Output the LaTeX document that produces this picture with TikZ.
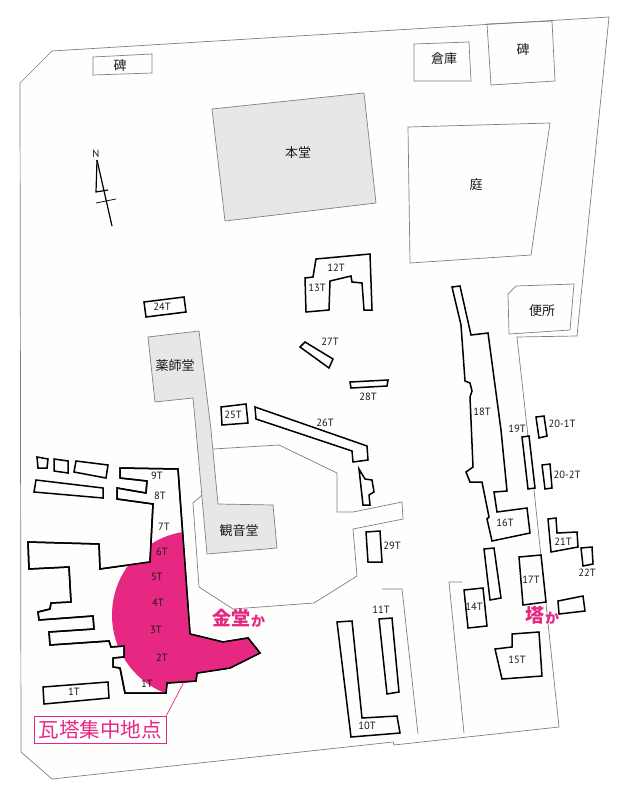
\documentclass[tikz,border=0pt]{standalone}
\usepackage{fontspec}
\setmainfont{PT Sans}
\newfontfamily\jpfont{Noto Sans CJK JP}
\definecolor{tilepink}{HTML}{E62882}
\definecolor{hallgray}{HTML}{E7E7E6}
\definecolor{linegray}{HTML}{7F7F7F}
\definecolor{ground}{HTML}{FEFEFC}
\def\mainruin{(120,468) -- (178,469) -- (190,634) -- (223,642) -- (248,638) -- (260,653) -- (230,668) -- (197,673) -- (196,681) -- (167,683) -- (166,693) -- (125,693) -- (120,668) -- (113,667) -- (113,658) -- (124,657) -- (124,646) -- (111,647) -- (109,641) -- (50,645) -- (49,632) -- (94,629) -- (93,616) -- (39,620) -- (38,612) -- (50,609) -- (51,603) -- (71,602) -- (69,567) -- (29,569) -- (28,542) -- (99,544) -- (100,569) -- (150,562) -- (153,504) -- (117,499) -- (117,488) -- (146,493) -- (147,481) -- (120,478) -- cycle}
\begin{document}
\begin{tikzpicture}[x=1pt,y=-1pt]
        \tikzstyle{thin_line}=[draw=linegray,line width=0.7pt]
        \tikzstyle{hall}=[thin_line,fill=hallgray]
        \tikzstyle{ruin}=[draw=black,line width=1.5pt,fill=ground,line join=miter]
        \tikzstyle{tile}=[font=\fontsize{10.5}{11}\selectfont,inner sep=0pt,text=black!90]
        \tikzstyle{place}=[font=\jpfont\fontsize{13}{14}\selectfont,inner sep=0pt,text=black!90]
        \tikzstyle{pink_big}=[font=\jpfont\bfseries\fontsize{19}{20}\selectfont,inner sep=0pt,text=tilepink]
        \tikzstyle{pink_small}=[font=\jpfont\bfseries\fontsize{14}{15}\selectfont,inner sep=0pt,text=tilepink]
        \useasboundingbox (0,0) rectangle (620,800);
        % site
        \draw[thin_line,fill=ground] (52,51) -- (609,17) -- (577,336) -- (517,337) -- (534,490) -- (559,727) -- (394,745) -- (393,742) -- (52,779) -- (21,752) -- (20,83) -- cycle;
        \draw[thin_line] (213,449) -- (279,445) -- (337,473) -- (337,512) -- (353,512) -- (402,502) -- (403,519) -- (353,529) -- (357,576) -- (314,603) -- (233,609) -- (199,587) -- (193,503) -- (202,495);
        \draw[thin_line] (382,589) -- (402,589) -- (418,734);
        \draw[thin_line] (462,582) -- (449,582) -- (464,733);
        \draw[thin_line] (93,57) -- (152,54) -- (152,73) -- (93,75) -- cycle;
        \draw[thin_line] (414,44) -- (469,42) -- (471,81) -- (414,81) -- cycle;
        \draw[thin_line] (487,24) -- (552,21) -- (555,81) -- (491,85) -- cycle;
        \draw[thin_line] (408,127) -- (550,123) -- (531,255) -- (410,263) -- cycle;
        \draw[thin_line] (508,294) -- (516,286) -- (574,284) -- (570,330) -- (509,334) -- cycle;
        % halls
        \draw[hall] (212,109) -- (364,93) -- (376,203) -- (225,221) -- cycle;
        \draw[hall] (148,337) -- (199,331) -- (211,430) -- (218,504) -- (273,505) -- (277,548) -- (207,554) -- (196,430) -- (193,398) -- (155,402) -- cycle;
        % north mark
        \draw[line width=1.2pt] (97,160) -- (112,226);
        \draw[line width=1.2pt] (97,160) -- (96,192) -- (108,190);
        \draw[line width=0.7pt] (96,203) -- (116,199);
        % tile scatter
        \draw[ruin] \mainruin;
        \begin{scope}
            \clip \mainruin;
            \fill[tilepink] (196,615) circle (84);
        \end{scope}
        \draw[ruin,fill=none] \mainruin;
        \draw[ruin] (37,457) -- (48,459) -- (47,468) -- (38,468) -- cycle;
        \draw[ruin] (54,459) -- (68,461) -- (68,473) -- (54,471) -- cycle;
        \draw[ruin] (76,461) -- (108,465) -- (106,478) -- (74,472) -- cycle;
        \draw[ruin] (36,480) -- (103,488) -- (103,498) -- (34,492) -- cycle;
        \draw[ruin] (43,687) -- (108,682) -- (109,698) -- (44,704) -- cycle;
        \draw[ruin] (316,259) -- (370,254) -- (372,310) -- (364,310) -- (362,283) -- (352,282) -- (351,276) -- (330,281) -- (329,310) -- (306,312) -- (305,278) -- (313,277) -- cycle;
        \draw[ruin] (144,302) -- (184,297) -- (186,312) -- (146,317) -- cycle;
        \draw[ruin] (221,407) -- (246,404) -- (248,423) -- (222,425) -- cycle;
        \draw[ruin] (255,407) -- (367,446) -- (368,460) -- (353,462) -- (352,451) -- (256,419) -- cycle;
        \draw[ruin] (359,469) -- (365,479) -- (372,480) -- (374,492) -- (369,495) -- (370,505) -- (363,505) -- cycle;
        \draw[ruin] (305,342) -- (333,359) -- (329,368) -- (300,347) -- cycle;
        \draw[ruin] (350,382) -- (388,380) -- (387,386) -- (351,388) -- cycle;
        \draw[ruin] (452,287) -- (460,286) -- (471,335) -- (488,333) -- (501,430) -- (507,491) -- (494,492) -- (497,512) -- (527,508) -- (530,533) -- (492,541) -- (487,519) -- (489,517) -- (482,482) -- (470,482) -- (466,472) -- (473,467) -- (470,397) -- (472,391) -- (470,383) -- (465,381) -- (461,325) -- cycle;
        \draw[ruin] (522,437) -- (529,436) -- (535,488) -- (528,489) -- cycle;
        \draw[ruin] (536,417) -- (544,416) -- (547,436) -- (539,438) -- cycle;
        \draw[ruin] (542,465) -- (550,464) -- (552,488) -- (545,489) -- cycle;
        \draw[ruin] (548,519) -- (556,518) -- (557,533) -- (577,532) -- (578,547) -- (551,552) -- cycle;
        \draw[ruin] (581,548) -- (592,547) -- (593,564) -- (583,566) -- cycle;
        \draw[ruin] (519,557) -- (541,555) -- (546,602) -- (523,605) -- cycle;
        \draw[ruin] (558,601) -- (583,596) -- (585,611) -- (559,614) -- cycle;
        \draw[ruin] (484,549) -- (494,548) -- (501,598) -- (490,600) -- cycle;
        \draw[ruin] (464,590) -- (483,588) -- (487,626) -- (468,628) -- cycle;
        \draw[ruin] (495,649) -- (512,647) -- (512,634) -- (539,632) -- (542,676) -- (502,679) -- cycle;
        \draw[ruin] (379,619) -- (392,618) -- (399,692) -- (387,694) -- cycle;
        \draw[ruin] (337,622) -- (352,621) -- (362,718) -- (397,716) -- (400,733) -- (351,737) -- cycle;
        \draw[ruin] (366,532) -- (380,531) -- (382,562) -- (368,562) -- cycle;
        % place names
        \node[place] (stone_1) at (120,66) {碑};
        \node[place] (stone_2) at (523,50) {碑};
        \node[place] (store) at (444,59) {倉庫};
        \node[place] (main_hall) at (298,153) {本堂};
        \node[place] (garden) at (476,185) {庭};
        \node[place] (toilet) at (542,311) {便所};
        \node[place] (yakushi) at (175,366) {薬師堂};
        \node[place] (kannon) at (239,531) {観音堂};
        \node[tile] (north) at (96,154) {N};
        \node[pink_big] (kondo) at (231,618) {金堂};
        \node[pink_small] (kondo_ka) at (258,621) {か};
        \node[pink_big] (tower) at (535,615) {塔};
        \node[pink_small] (tower_ka) at (552,618) {か};
        % tile labels
        \node[tile] (t_1a) at (74,692) {1T};
        \node[tile] (t_1b) at (147,684) {1T};
        \node[tile] (t_2) at (162,658) {2T};
        \node[tile] (t_3) at (156,630) {3T};
        \node[tile] (t_4) at (158,603) {4T};
        \node[tile] (t_5) at (157,577) {5T};
        \node[tile] (t_6) at (162,552) {6T};
        \node[tile] (t_7) at (164,527) {7T};
        \node[tile] (t_8) at (160,496) {8T};
        \node[tile] (t_9) at (157,476) {9T};
        \node[tile] (t_10) at (367,726) {10T};
        \node[tile] (t_11) at (381,610) {11T};
        \node[tile] (t_12) at (336,268) {12T};
        \node[tile] (t_13) at (317,288) {13T};
        \node[tile] (t_14) at (474,607) {14T};
        \node[tile] (t_15) at (517,660) {15T};
        \node[tile] (t_16) at (505,523) {16T};
        \node[tile] (t_17) at (531,580) {17T};
        \node[tile] (t_18) at (482,412) {18T};
        \node[tile] (t_19) at (517,429) {19T};
        \node[tile] (t_20_1) at (562,424) {20-1T};
        \node[tile] (t_20_2) at (567,475) {20-2T};
        \node[tile] (t_21) at (563,542) {21T};
        \node[tile] (t_22) at (587,573) {22T};
        \node[tile] (t_24) at (162,307) {24T};
        \node[tile] (t_25) at (233,415) {25T};
        \node[tile] (t_26) at (325,423) {26T};
        \node[tile] (t_27) at (330,342) {27T};
        \node[tile] (t_28) at (368,397) {28T};
        \node[tile] (t_29) at (392,546) {29T};
        % scatter label
        \node[draw=tilepink,line width=0.7pt,fill=white,minimum width=132pt,minimum height=27pt,inner sep=0pt,text=tilepink,font=\jpfont\fontsize{20.5}{21}\selectfont] (scatter_label) at (100,729.5) {瓦塔集中地点};
        \coordinate (scatter_edge) at (184,682);
        \draw[tilepink,line width=0.7pt] (scatter_label.north east) -- (scatter_edge);
    \end{tikzpicture}
\end{document}
